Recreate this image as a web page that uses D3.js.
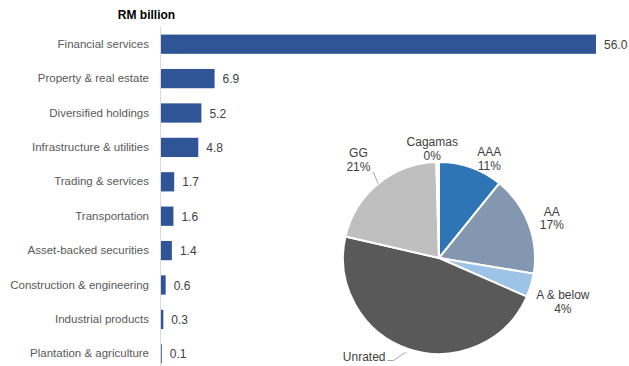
<!DOCTYPE html>
<html>
<head>
<meta charset="utf-8">
<script src="https://cdn.jsdelivr.net/npm/d3@7"></script>
<style>
  html, body { margin: 0; padding: 0; background: #ffffff; }
  svg { display: block; font-family: "Liberation Sans", Arial, sans-serif; }
</style>
</head>
<body>
<svg id="chart" width="629" height="366"></svg>
<script>
// Corporate bond issuance by sector (RM billion)
const sectors = [
  "Financial services",
  "Property & real estate",
  "Diversified holdings",
  "Infrastructure & utilities",
  "Trading & services",
  "Transportation",
  "Asset-backed securities",
  "Construction & engineering",
  "Industrial products",
  "Plantation & agriculture"
];
const sectorValues = [56.0, 6.9, 5.2, 4.8, 1.7, 1.6, 1.4, 0.6, 0.3, 0.1];
const unitTitle = "RM billion";

// Share by rating (%), clockwise from 12 o'clock
const ratings = ["AAA", "AA", "A & below", "Unrated", "GG", "Cagamas"];
const ratingShares = [10.8, 16.8, 4.0, 47.0, 20.95, 0.45];
const ratingColors = ["#2E75B6", "#8497B0", "#9DC3E6", "#595959", "#BFBFBF", "#F7F7F7"];

const svg = d3.select("#chart");

// ---------- horizontal bar chart ----------
const x = d3.scaleLinear().domain([0, 56]).range([161, 596]);
const y = d3.scaleBand().domain(sectors).range([27, 371])
  .paddingInner(0.44).paddingOuter(0.22);

svg.append("text")
  .attr("x", 146.5).attr("y", 19)
  .attr("text-anchor", "middle")
  .attr("font-size", 12).attr("font-weight", "bold")
  .attr("fill", "#000000")
  .text(unitTitle);

const bars = svg.append("g");
bars.selectAll("rect")
  .data(sectors)
  .join("rect")
  .attr("x", x(0))
  .attr("y", d => y(d))
  .attr("width", (d, i) => x(sectorValues[i]) - x(0))
  .attr("height", y.bandwidth())
  .attr("fill", "#2F5597");

bars.selectAll("text.val")
  .data(sectors)
  .join("text")
  .attr("class", "val")
  .attr("x", (d, i) => x(sectorValues[i]) + 8)
  .attr("y", d => y(d) + y.bandwidth() / 2 + 4.5)
  .attr("font-size", 12)
  .attr("fill", "#404040")
  .text((d, i) => sectorValues[i].toFixed(1));

// category axis on the left
const yAxis = svg.append("g")
  .attr("transform", `translate(${x(0) - 0.5},0)`)
  .call(d3.axisLeft(y).tickSize(0).tickPadding(11.5));
yAxis.select(".domain").remove();
yAxis.append("line")
  .attr("x1", 0).attr("x2", 0)
  .attr("y1", 27).attr("y2", 371)
  .attr("stroke", "#D9D9D9").attr("stroke-width", 1);
yAxis.selectAll(".tick text")
  .attr("font-family", "'Liberation Sans', Arial, sans-serif")
  .attr("font-size", 11.5)
  .attr("fill", "#595959");

// ---------- pie chart ----------
const cx = 439, cy = 258, radius = 96;
const pie = d3.pie().sort(null).value(d => d.value);
const arcs = pie(ratings.map((r, i) => ({ name: r, value: ratingShares[i], color: ratingColors[i] })));
const arc = d3.arc().innerRadius(0).outerRadius(radius);

const pieG = svg.append("g").attr("transform", `translate(${cx},${cy})`);
pieG.selectAll("path")
  .data(arcs)
  .join("path")
  .attr("d", arc)
  .attr("fill", d => d.data.color)
  .attr("stroke", "#ffffff")
  .attr("stroke-width", 2)
  .attr("stroke-linejoin", "round");

// label anchors: mid-angle at a fixed radius, then shifted to sit clear of the slices
const labelRadius = 124;
const labelOffset = {
  "AAA": [9, 15],
  "AA": [-3, 2],
  "A & below": [5, 6],
  "GG": [-2, -5],
  "Cagamas": [-5, 12]
};
const pct = v => Math.round(v) + "%";

const labels = pieG.append("g")
  .attr("font-size", 12)
  .attr("fill", "#404040")
  .attr("text-anchor", "middle");

arcs.forEach(a => {
  const name = a.data.name;
  if (!labelOffset[name]) return;
  const mid = (a.startAngle + a.endAngle) / 2;
  const lx = Math.sin(mid) * labelRadius + labelOffset[name][0];
  const ly = -Math.cos(mid) * labelRadius + labelOffset[name][1];
  const t = labels.append("text").attr("x", lx).attr("y", ly);
  t.append("tspan").attr("x", lx).attr("dy", 0).text(name);
  t.append("tspan").attr("x", lx).attr("dy", 13.5).text(pct(a.data.value));
});

// GG leader line
const gg = arcs.find(a => a.data.name === "GG");
{
  const mid = (gg.startAngle + gg.endAngle) / 2;
  const ex = Math.sin(mid) * radius, ey = -Math.cos(mid) * radius;
  pieG.append("line")
    .attr("x1", ex + (373 - 378)).attr("y1", ey + (172 - 184))
    .attr("x2", ex).attr("y2", ey)
    .attr("stroke", "#A6A6A6").attr("stroke-width", 1);
}

// Unrated label with bent leader line
const unr = arcs.find(a => a.data.name === "Unrated");
{
  const mid = (unr.startAngle + unr.endAngle) / 2 + 0.02;
  const ex = Math.sin(mid) * (radius + 4), ey = -Math.cos(mid) * (radius + 4);
  const tx = 386.5 - cx, ty = 360.5 - cy;
  pieG.append("polyline")
    .attr("points", [[tx + 1, ty], [tx + 7, ty], [ex, ey]].map(p => p.join(",")).join(" "))
    .attr("fill", "none")
    .attr("stroke", "#A6A6A6").attr("stroke-width", 1);
  labels.append("text")
    .attr("x", tx - 1).attr("y", ty + 0.5)
    .attr("text-anchor", "end")
    .text("Unrated");
}
</script>
</body>
</html>
